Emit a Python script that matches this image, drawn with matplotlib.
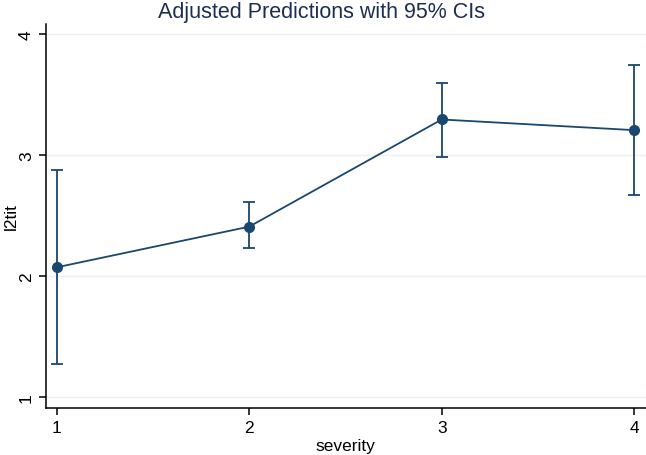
import matplotlib
matplotlib.use("Agg")
import matplotlib.pyplot as plt

severity = [1, 2, 3, 4]
pred = [2.074, 2.41, 3.295, 3.207]
ci_low = [1.278, 2.23, 2.986, 2.672]
ci_high = [2.874, 2.61, 3.595, 3.744]
xticks = [1, 2, 3, 4]
yticks = [1, 2, 3, 4]

plt.rcParams['font.family'] = ['Liberation Sans', 'DejaVu Sans']
color = '#1a476f'

fig = plt.figure(figsize=(6.46, 4.56), dpi=100)
ax = fig.add_axes([0.0707, 0.103, 0.9293, 0.842])

yerr = [[p - l for p, l in zip(pred, ci_low)], [h - p for p, h in zip(pred, ci_high)]]
ax.errorbar(severity, pred, yerr=yerr, color=color, lw=1.3, elinewidth=1.3,
            capsize=4.5, capthick=1.3, marker='o', markersize=7, zorder=3)

ax.set_xlim(0.943, 4.061)
ax.set_ylim(0.912, 4.083)
ax.set_xticks(xticks)
ax.set_yticks(yticks)
ax.set_yticklabels([str(t) for t in yticks], rotation=90, va='center')
ax.grid(axis='y', color='#eaf2f3', lw=1)
ax.set_axisbelow(True)
for s in ['top', 'right']:
    ax.spines[s].set_visible(False)
ax.spines['left'].set_linewidth(1.1)
ax.spines['bottom'].set_linewidth(1.1)
ax.tick_params(labelsize=12.5, length=5, width=1.1, colors='black')
ax.set_xlabel('severity', fontsize=12.5, labelpad=2)
ax.set_ylabel('l2tit', fontsize=12.5, va='center')
ax.yaxis.set_label_coords(-0.057, 0.5)
fig.text(0.497, 0.973, 'Adjusted Predictions with 95% CIs', ha='center', va='center',
         fontsize=15.5, color='#1e2d53')

fig.savefig('out.png', dpi=100)
